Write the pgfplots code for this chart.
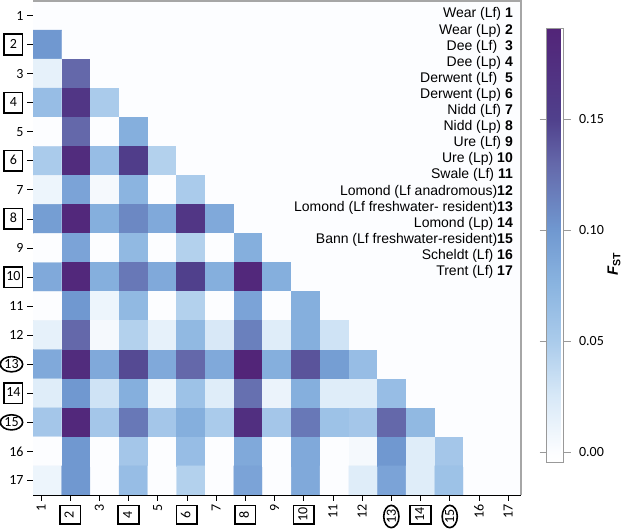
\documentclass[border=0pt]{standalone}
\usepackage{pgfplots}
\pgfplotsset{compat=1.18}
\usepackage{fontspec}
\setmainfont{Liberation Sans}
\newfontfamily\carlito{Carlito}
\usetikzlibrary{shapes.geometric}
\newcommand{\bx}[1]{{\setlength{\fboxrule}{1.6pt}\setlength{\fboxsep}{2pt}\fbox{\makebox[13pt]{\rule[-4pt]{0pt}{15pt}#1}}}}
\newcommand{\el}[1]{\tikz[baseline=(n.base)]\node[draw,ellipse,line width=1.6pt,inner sep=0.8pt,anchor=center,rotate=0](n){#1};}
\newcommand{\elx}[1]{\tikz[baseline=(n.base)]\node[draw,ellipse,line width=1.6pt,inner sep=0.8pt,anchor=center,rotate=-90](n){#1};}
\begin{document}
\begin{tikzpicture}
\useasboundingbox (0pt,0pt) rectangle (623pt,529pt);
\begin{axis}[
  at={(33pt,34pt)}, anchor=south west,
  scale only axis, width=488pt, height=494pt,
  xmin=0.5, xmax=17.5, ymin=0.5, ymax=17.5,
  axis x line*=bottom, axis y line*=left,
  axis line style={black, line width=0.8pt},
  xtick={0.779,1.796,2.813,3.830,4.847,5.864,6.881,7.898,8.915,9.932,10.949,11.966,12.983,14.000,15.017,16.034,17.051},
  xticklabels={1,\bx{2},3,\bx{4},5,\bx{6},7,\bx{8},9,\bx{10},11,12,\elx{13},\bx{14},\elx{15},16,17},
  ytick={1,...,17},
  yticklabels={17,16,\el{15},\bx{14},\el{13},12,11,\bx{10},9,\bx{8},7,\bx{6},5,\bx{4},3,\bx{2},1},
  tick align=outside, major tick length=6pt,
  tick style={black, line width=0.8pt},
  ticklabel style={font=\carlito\fontsize{14}{14}\selectfont},
  /pgf/number format/assume math mode=true,
  xticklabel style={rotate=90, anchor=east},
  colormap={fst}{rgb255(0cm)=(255,255,255) rgb255(4.5cm)=(252,253,255) rgb255(30cm)=(215,232,247) rgb255(54.5cm)=(170,203,235) rgb255(80cm)=(138,180,224) rgb255(104.5cm)=(112,152,208) rgb255(134.5cm)=(100,104,170) rgb255(154.5cm)=(80,64,140) rgb255(195.5cm)=(82,36,120)},
  point meta min=-0.0045, point meta max=0.191,
  colorbar,
  colorbar style={
    at={(parent axis.north east)}, anchor=north west,
    xshift=17pt, yshift=-27pt, width=17pt, height=434pt,
    axis line style={gray!80},
    ytick={0,0.05,0.10,0.15},
    yticklabels={0.00,0.05,0.10,0.15},
    tick align=outside, major tick length=7pt,
    ytick style={gray!80, line width=0.8pt},
    yticklabel style={font=\carlito\fontsize{14}{14}\selectfont, xshift=5pt},
  },
]
\addplot[matrix plot*, mesh/cols=17, point meta=explicit] table[x=x, y=y, meta=c] {
x y c
1 17 0
2 17 0
3 17 0
4 17 0
5 17 0
6 17 0
7 17 0
8 17 0
9 17 0
10 17 0
11 17 0
12 17 0
13 17 0
14 17 0
15 17 0
16 17 0
17 17 0
1 16 0.10
2 16 0
3 16 0
4 16 0
5 16 0
6 16 0
7 16 0
8 16 0
9 16 0
10 16 0
11 16 0
12 16 0
13 16 0
14 16 0
15 16 0
16 16 0
17 16 0
1 15 0.015
2 15 0.13
3 15 0
4 15 0
5 15 0
6 15 0
7 15 0
8 15 0
9 15 0
10 15 0
11 15 0
12 15 0
13 15 0
14 15 0
15 15 0
16 15 0
17 15 0
1 14 0.065
2 14 0.165
3 14 0.05
4 14 0
5 14 0
6 14 0
7 14 0
8 14 0
9 14 0
10 14 0
11 14 0
12 14 0
13 14 0
14 14 0
15 14 0
16 14 0
17 14 0
1 13 0
2 13 0.13
3 13 0
4 13 0.08
5 13 0
6 13 0
7 13 0
8 13 0
9 13 0
10 13 0
11 13 0
12 13 0
13 13 0
14 13 0
15 13 0
16 13 0
17 13 0
1 12 0.05
2 12 0.18
3 12 0.065
4 12 0.155
5 12 0.045
6 12 0
7 12 0
8 12 0
9 12 0
10 12 0
11 12 0
12 12 0
13 12 0
14 12 0
15 12 0
16 12 0
17 12 0
1 11 0.01
2 11 0.09
3 11 0.005
4 11 0.075
5 11 0
6 11 0.05
7 11 0
8 11 0
9 11 0
10 11 0
11 11 0
12 11 0
13 11 0
14 11 0
15 11 0
16 11 0
17 11 0
1 10 0.095
2 10 0.185
3 10 0.08
4 10 0.11
5 10 0.085
6 10 0.165
7 10 0.085
8 10 0
9 10 0
10 10 0
11 10 0
12 10 0
13 10 0
14 10 0
15 10 0
16 10 0
17 10 0
1 9 0
2 9 0.09
3 9 0
4 9 0.07
5 9 0
6 9 0.045
7 9 0
8 9 0.08
9 9 0
10 9 0
11 9 0
12 9 0
13 9 0
14 9 0
15 9 0
16 9 0
17 9 0
1 8 0.085
2 8 0.185
3 8 0.08
4 8 0.12
5 8 0.085
6 8 0.15
7 8 0.08
8 8 0.185
9 8 0.08
10 8 0
11 8 0
12 8 0
13 8 0
14 8 0
15 8 0
16 8 0
17 8 0
1 7 0
2 7 0.10
3 7 0.01
4 7 0.07
5 7 0
6 7 0.045
7 7 0
8 7 0.09
9 7 0
10 7 0.08
11 7 0
12 7 0
13 7 0
14 7 0
15 7 0
16 7 0
17 7 0
1 6 0.015
2 6 0.13
3 6 0.005
4 6 0.045
5 6 0.015
6 6 0.07
7 6 0.025
8 6 0.115
9 6 0.02
10 6 0.08
11 6 0.03
12 6 0
13 6 0
14 6 0
15 6 0
16 6 0
17 6 0
1 5 0.085
2 5 0.18
3 5 0.085
4 5 0.145
5 5 0.085
6 5 0.13
7 5 0.085
8 5 0.19
9 5 0.08
10 5 0.14
11 5 0.095
12 5 0.065
13 5 0
14 5 0
15 5 0
16 5 0
17 5 0
1 4 0.02
2 4 0.10
3 4 0.03
4 4 0.08
5 4 0.01
6 4 0.06
7 4 0.02
8 4 0.125
9 4 0.012
10 4 0.08
11 4 0.02
12 4 0.02
13 4 0.065
14 4 0
15 4 0
16 4 0
17 4 0
1 3 0.055
2 3 0.185
3 3 0.055
4 3 0.12
5 3 0.055
6 3 0.08
7 3 0.05
8 3 0.175
9 3 0.055
10 3 0.12
11 3 0.06
12 3 0.055
13 3 0.13
14 3 0.07
15 3 0
16 3 0
17 3 0
1 2 0
2 2 0.10
3 2 0
4 2 0.055
5 2 0
6 2 0.065
7 2 0
8 2 0.085
9 2 0
10 2 0.085
11 2 0
12 2 0.005
13 2 0.10
14 2 0.02
15 2 0.055
16 2 0
17 2 0
1 1 0.01
2 1 0.10
3 1 0
4 1 0.065
5 1 0
6 1 0.045
7 1 0
8 1 0.09
9 1 0
10 1 0.085
11 1 0
12 1 0.02
13 1 0.09
14 1 0.02
15 1 0.06
16 1 0
17 1 0
};
\end{axis}
\draw[gray!70, line width=2.5pt] (33pt,527.8pt) -- (521pt,527.8pt);
\draw[gray!70, line width=1.5pt] (521pt,529pt) -- (521pt,34pt);
\begin{scope}[every node/.style={anchor=base east, inner sep=0pt, font=\fontsize{14}{16}\selectfont}]
\node at (513pt,511.0pt) {Wear (Lf) \textbf{1}};
\node at (513pt,494.9pt) {Wear (Lp) \textbf{2}};
\node at (513pt,478.8pt) {Dee (Lf)\ \ \textbf{3}};
\node at (513pt,462.7pt) {Dee (Lp) \textbf{4}};
\node at (513pt,446.6pt) {Derwent (Lf)\ \ \textbf{5}};
\node at (513pt,430.5pt) {Derwent (Lp) \textbf{6}};
\node at (513pt,414.4pt) {Nidd (Lf) \textbf{7}};
\node at (513pt,398.3pt) {Nidd (Lp) \textbf{8}};
\node at (513pt,382.2pt) {Ure (Lf) \textbf{9}};
\node at (513pt,366.1pt) {Ure (Lp) \textbf{10}};
\node at (513pt,350.0pt) {Swale (Lf) \textbf{11}};
\node at (513pt,333.9pt) {Lomond (Lf anadromous)\textbf{12}};
\node at (513pt,317.8pt) {Lomond (Lf freshwater- resident)\textbf{13}};
\node at (513pt,301.7pt) {Lomond (Lp) \textbf{14}};
\node at (513pt,285.6pt) {Bann (Lf freshwater-resident)\textbf{15}};
\node at (513pt,269.5pt) {Scheldt (Lf) \textbf{16}};
\node at (513pt,253.4pt) {Trent (Lf) \textbf{17}};
\end{scope}
\node[rotate=90, font=\fontsize{15}{15}\selectfont\bfseries] at (614pt,265pt) {\textit{F}\textsubscript{\textup{ST}}};
\end{tikzpicture}
\end{document}
